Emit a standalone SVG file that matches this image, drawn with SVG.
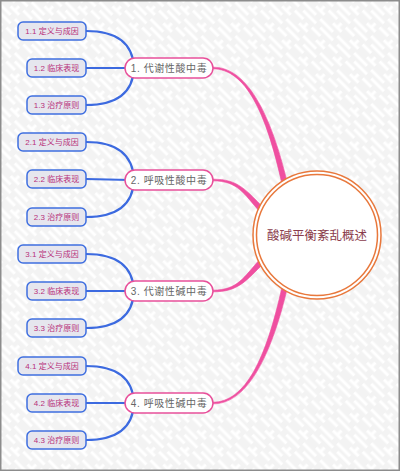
<svg xmlns="http://www.w3.org/2000/svg" width="400" height="471" viewBox="0 0 400 471">
<defs>
<pattern id="bg" width="24" height="24" patternUnits="userSpaceOnUse" patternTransform="rotate(45)">
<rect width="24" height="24" fill="#f3f3f3"/>
<path d="M0 3 H18 M6 9 H24 M0 15 H12 M12 21 H24 M18 15 V21" stroke="#ffffff" stroke-width="3" fill="none"/>
</pattern>
<style>
.sub rect{fill:#e6e6ee;stroke:#3f6fe0;stroke-width:1.5}
.sub text{font-family:"Liberation Sans","Noto Sans CJK SC",sans-serif;font-size:8px;fill:#b8307a;text-anchor:middle;dominant-baseline:central}
.main rect{fill:#ffffff;stroke:#e8509a;stroke-width:1.5}
.main text{font-family:"Liberation Sans","Noto Sans CJK SC",sans-serif;font-size:10px;fill:#666666;text-anchor:middle;dominant-baseline:central;letter-spacing:0.6px}
.blue{fill:none;stroke:#3c6ae0;stroke-width:2.2;stroke-linecap:round}
.pink{fill:#ef4fa0;stroke:#ef4fa0;stroke-width:0.6}
</style>
</defs>
<rect x="0" y="0" width="400" height="471" fill="url(#bg)"/>
<rect x="0.75" y="0.75" width="398.5" height="469.5" fill="none" stroke="#8c8c8c" stroke-width="1.5"/>
<g id="connectors">
<path class="pink" d="M 213 67.2 C 245 66.7 270.1 109.5 287.7 184.4 L 282.3 185.6 C 265.9 110.5 245 69.3 213 68.8 Z"/>
<path class="pink" d="M 213 179.2 C 238 178.8 246.5 190.6 264 208.1 L 260 211.9 C 243.5 193.4 238 181.2 213 180.8 Z"/>
<path class="pink" d="M 213 291.8 C 238 292.2 246.5 280.4 264 262.9 L 260 259.1 C 243.5 277.6 238 289.8 213 290.2 Z"/>
<path class="pink" d="M 213 403.8 C 245 404.3 270.1 361.5 287.7 286.6 L 282.3 285.4 C 265.9 360.5 245 401.7 213 402.2 Z"/>
<g class="blue">
<path d="M 86 31 C 115 31 133 42 134 68 M 86 68 L 130 68 M 86 105 C 115 105 133 94 134 68"/>
<path d="M 86 142 C 115 142 133 153 134 180 M 86 179 L 130 180 M 86 217 C 115 217 133 206 134 180"/>
<path d="M 86 254 C 115 254 133 265 134 291 M 86 291 L 130 291 M 86 328 C 115 328 133 317 134 291"/>
<path d="M 86 366 C 115 366 133 377 134 403 M 86 403 L 130 403 M 86 440 C 115 440 133 429 134 403"/>
</g>
</g>
<g id="center">
<circle cx="317" cy="235" r="64" fill="#ffffff" stroke="#e8783c" stroke-width="1.5"/>
<circle cx="317" cy="235" r="60.5" fill="none" stroke="#e8783c" stroke-width="1.5"/>
<text x="317" y="236" font-family="'Liberation Sans','Noto Sans CJK SC',sans-serif" font-size="12.5" fill="#8a3c4c" text-anchor="middle" dominant-baseline="central">酸碱平衡紊乱概述</text>
</g>
<g id="n1" class="main"><rect x="125" y="58" width="88" height="20" rx="10"/><text x="169" y="68">1. 代谢性酸中毒</text></g>
<g id="n2" class="main"><rect x="125" y="170" width="88" height="20" rx="10"/><text x="169" y="180">2. 呼吸性酸中毒</text></g>
<g id="n3" class="main"><rect x="125" y="281" width="88" height="20" rx="10"/><text x="169" y="291">3. 代谢性碱中毒</text></g>
<g id="n4" class="main"><rect x="125" y="393" width="88" height="20" rx="10"/><text x="169" y="403">4. 呼吸性碱中毒</text></g>
<g id="n1-1" class="sub"><rect x="18" y="22" width="68" height="18" rx="5"/><text x="52" y="31">1.1 定义与成因</text></g>
<g id="n1-2" class="sub"><rect x="27" y="59" width="59" height="18" rx="5"/><text x="56.5" y="68">1.2 临床表现</text></g>
<g id="n1-3" class="sub"><rect x="27" y="96" width="59" height="18" rx="5"/><text x="56.5" y="105">1.3 治疗原则</text></g>
<g id="n2-1" class="sub"><rect x="18" y="133" width="68" height="18" rx="5"/><text x="52" y="142">2.1 定义与成因</text></g>
<g id="n2-2" class="sub"><rect x="27" y="170" width="59" height="18" rx="5"/><text x="56.5" y="179">2.2 临床表现</text></g>
<g id="n2-3" class="sub"><rect x="27" y="208" width="59" height="18" rx="5"/><text x="56.5" y="217">2.3 治疗原则</text></g>
<g id="n3-1" class="sub"><rect x="18" y="245" width="68" height="18" rx="5"/><text x="52" y="254">3.1 定义与成因</text></g>
<g id="n3-2" class="sub"><rect x="27" y="282" width="59" height="18" rx="5"/><text x="56.5" y="291">3.2 临床表现</text></g>
<g id="n3-3" class="sub"><rect x="27" y="319" width="59" height="18" rx="5"/><text x="56.5" y="328">3.3 治疗原则</text></g>
<g id="n4-1" class="sub"><rect x="18" y="357" width="68" height="18" rx="5"/><text x="52" y="366">4.1 定义与成因</text></g>
<g id="n4-2" class="sub"><rect x="27" y="394" width="59" height="18" rx="5"/><text x="56.5" y="403">4.2 临床表现</text></g>
<g id="n4-3" class="sub"><rect x="27" y="431" width="59" height="18" rx="5"/><text x="56.5" y="440">4.3 治疗原则</text></g>
</svg>
